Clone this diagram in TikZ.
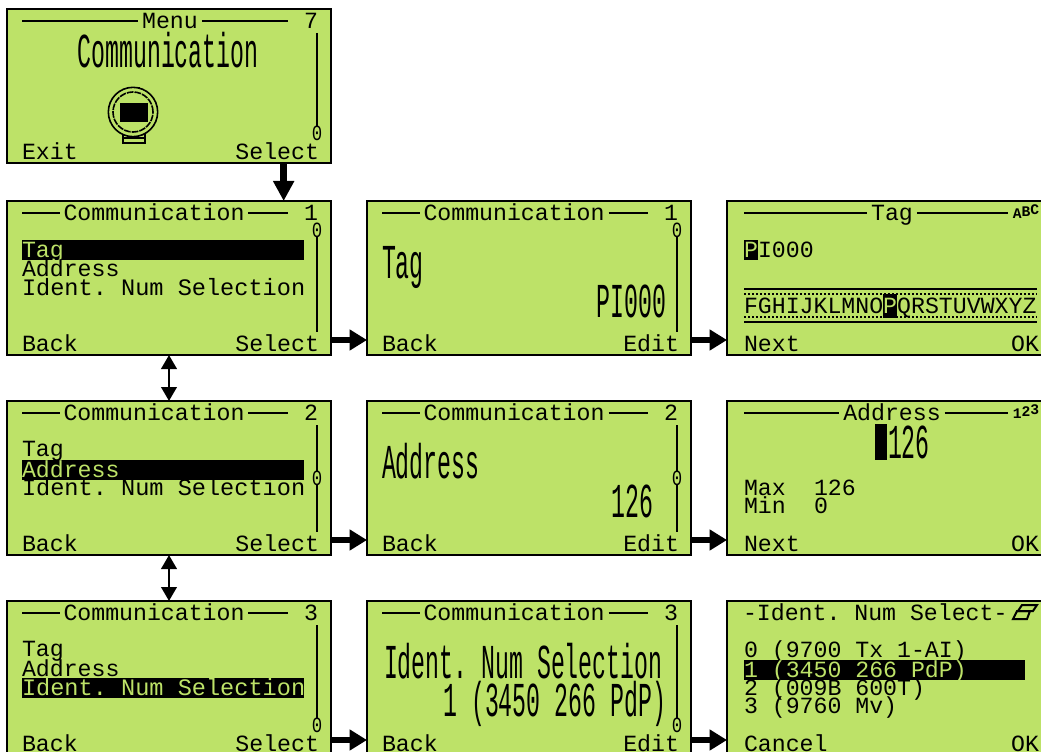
\documentclass[tikz,border=0pt]{standalone}
\usepackage{fontspec}
\setmainfont[WordSpace={1,0,0}, PunctuationSpace=WordSpace]{Liberation Mono}
\frenchspacing
\usetikzlibrary{arrows.meta, positioning}
\definecolor{lcdgreen}{HTML}{BDE268}
\tikzset{
    screen/.style={draw=black, line width=1.9pt, fill=lcdgreen, minimum width=243pt, minimum height=115.5pt, outer sep=0pt, inner sep=0pt},
    lcdtext/.style={inner sep=0pt, outer sep=0pt, text height=11.5pt, text depth=0pt, font=\fontsize{17.4pt}{18pt}\selectfont},
    lcdwide/.style={font=\fontsize{17.7pt}{18pt}\selectfont},
    bigtext/.style={lcdtext, text height=24pt},
    lcdsel/.style={lcdtext, fill=black, text=lcdgreen, inner ysep=1.4pt, text width=#1, align=flush left},
    lcdline/.style={line width=1.5pt},
    lcddots/.style={line width=1.5pt, dash pattern=on 1.5pt off 1.5pt},
    thumb/.style={inner sep=0pt, fill=lcdgreen, font=\fontsize{13pt}{13pt}\selectfont},
    icontext/.style={inner sep=0pt, font=\bfseries\fontsize{11pt}{11pt}\selectfont},
    bigarrow/.style={line width=5pt, -{Triangle[width=15pt,length=#1]}},
    bigarrow/.default=13pt,
    swaparrow/.style={line width=2.2pt, {Triangle[width=11.5pt,length=10.5pt]}-{Triangle[width=11.5pt,length=10.5pt]}}
}
\newcommand{\tall}[1]{\scalebox{1}[2.1]{#1}}
\newcommand{\lcdtitle}[4]{% screen, title, centre, start of the rule
    \node[lcdtext, inner xsep=3pt] (#1title) at (#3,12) {#2};
    \draw[lcdline] (#4,12) -- (#1title);
    \draw[lcdline] (#1title) -- (281,12);
}
\newcommand{\lcdkeys}[4]{% screen, left key, right key, start of the left key
    \node[lcdtext, anchor=west] (#1left) at (#4,143) {#2};
    \node[lcdtext, anchor=east] (#1right) at (312,143) {#3};
}
\newcommand{\lcdbar}[3]{% screen, number, place of the thumb
    \node[lcdtext] (#1num) at (304,12) {#2};
    \draw[lcdline] (310,24) -- (310,131);
    \node[thumb] (#1thumb) at (310,#3) {\scalebox{1}[1.25]{0}};
}
\begin{document}
\begin{tikzpicture}[x=0.75pt, y=-0.75pt, node distance=34.5pt and 27pt]
    \useasboundingbox (0,0) rectangle (1041,752);
    \clip (0,0) rectangle (1041,752);

    % Screens
    \node[screen] at (169,86) (menu) {};
    \node[screen, below=28.5pt of menu] (commA) {};
    \node[screen, below=of commA] (commB) {};
    \node[screen, below=of commB] (commC) {};
    \node[screen, right=of commA] (editA) {};
    \node[screen, right=of commB] (editB) {};
    \node[screen, right=of commC] (editC) {};
    \node[screen, right=of editA] (entryA) {};
    \node[screen, right=of editB] (entryB) {};
    \node[screen, right=of editC] (entryC) {};

    % Menu
    \begin{scope}[shift={(menu.north west)}]
        \lcdtitle{menu}{Menu}{163}{15}
        \lcdkeys{menu}{Exit}{Select}{15}
        \lcdbar{menu}{7}{124}
        \node[bigtext] (menuBig) at (161,43) {\tall{Communication}};
        \draw[line width=1.2pt] (116,125) rectangle (138,134);
        \draw[line width=1pt] (116,129) -- (138,129);
        \draw[line width=1.2pt] (120,79) -- (133,79);
        \draw[line width=1.2pt, fill=lcdgreen] (126,103) circle[radius=18.5pt];
        \draw[line width=1.2pt, dash pattern=on 5pt off 0.8pt] (126,103) circle[radius=15pt];
        \fill (113,94) rectangle (141,113);
    \end{scope}

    % Communication list
    \begin{scope}[shift={(commA.north west)}]
        \lcdtitle{commA}{Communication}{147}{15}
        \lcdkeys{commA}{Back}{Select}{15}
        \lcdbar{commA}{1}{29}
        \node[lcdsel=211.5pt, anchor=west] (commArowA) at (15,49) {Tag};
        \node[lcdtext, anchor=west] (commArowB) at (15,68) {Address};
        \node[lcdtext, lcdwide, anchor=west] (commArowC) at (15,87) {Ident. Num Selection};
    \end{scope}
    \begin{scope}[shift={(commB.north west)}]
        \lcdtitle{commB}{Communication}{147}{15}
        \lcdkeys{commB}{Back}{Select}{15}
        \lcdbar{commB}{2}{77}
        \node[lcdtext, anchor=west] (commBrowA) at (15,48) {Tag};
        \node[lcdsel=211.5pt, anchor=west] (commBrowB) at (15,69) {Address};
        \node[lcdtext, lcdwide, anchor=west] (commBrowC) at (15,87) {Ident. Num Selection};
    \end{scope}
    \begin{scope}[shift={(commC.north west)}]
        \lcdtitle{commC}{Communication}{147}{15}
        \lcdkeys{commC}{Back}{Select}{15}
        \lcdbar{commC}{3}{124}
        \node[lcdtext, anchor=west] (commCrowA) at (15,48) {Tag};
        \node[lcdtext, anchor=west] (commCrowB) at (15,68) {Address};
        \node[lcdsel=211.5pt, lcdwide, anchor=west] (commCrowC) at (15,87) {\mbox{Ident. Num Selection}};
    \end{scope}

    % Values
    \begin{scope}[shift={(editA.north west)}]
        \lcdtitle{editA}{Communication}{147}{15}
        \lcdkeys{editA}{Back}{Edit}{15}
        \lcdbar{editA}{1}{29}
        \node[bigtext, anchor=west] (editAname) at (15,61) {\tall{Tag}};
        \node[bigtext, anchor=east] (editAvalue) at (299,100) {\tall{PI000}};
    \end{scope}
    \begin{scope}[shift={(editB.north west)}]
        \lcdtitle{editB}{Communication}{147}{15}
        \lcdkeys{editB}{Back}{Edit}{15}
        \lcdbar{editB}{2}{77}
        \node[bigtext, anchor=west] (editBname) at (15,61) {\tall{Address}};
        \node[bigtext, anchor=east] (editBvalue) at (286,100) {\tall{126}};
    \end{scope}
    \begin{scope}[shift={(editC.north west)}]
        \lcdtitle{editC}{Communication}{147}{15}
        \lcdkeys{editC}{Back}{Edit}{15}
        \lcdbar{editC}{3}{124}
        \node[bigtext, anchor=west] (editCname) at (17,61) {\tall{Ident. Num Selection}};
        \node[bigtext, anchor=east] (editCvalue) at (299,99) {\tall{1 (3450 266 PdP)}};
    \end{scope}

    % Tag entry
    \begin{scope}[shift={(entryA.north west)}]
        \lcdtitle{entryA}{Tag}{165}{17}
        \lcdkeys{entryA}{Next}{OK}{17}
        \node[icontext] (entryAicon) at (299,11) {A\raisebox{1.5pt}{B}\raisebox{3pt}{C}};
        \node[lcdsel=10.5pt, anchor=west] (entryAcursor) at (17,49) {P};
        \node[lcdtext, right=0pt of entryAcursor] (entryAvalue) {I000};
        \draw[lcdline] (17,88) -- (310,88);
        \draw[lcddots] (17,93) -- (310,93);
        \draw[lcddots] (17,116) -- (310,116);
        \draw[lcdline] (17,121) -- (310,121);
        \node[lcdtext, anchor=west] (entryAfirst) at (17,105) {FGHIJKLMNO};
        \node[lcdsel=10.5pt, inner ysep=3pt, right=0pt of entryAfirst] (entryApick) {P};
        \node[lcdtext, right=0pt of entryApick] (entryAlast) {QRSTUVWXYZ};
    \end{scope}

    % Address entry
    \begin{scope}[shift={(entryB.north west)}]
        \lcdtitle{entryB}{Address}{165}{17}
        \lcdkeys{entryB}{Next}{OK}{17}
        \node[icontext] (entryBicon) at (299,11) {1\raisebox{1.5pt}{2}\raisebox{3pt}{3}};
        \node[bigtext, anchor=west] (entryBvalue) at (161,41) {\tall{126}};
        \fill (148,23) rectangle (160,59);
        \node[lcdtext, anchor=west] (entryBmax) at (17,87) {Max};
        \node[lcdtext, anchor=west] (entryBmaxval) at (87,87) {126};
        \node[lcdtext, anchor=west] (entryBmin) at (17,105) {Min};
        \node[lcdtext, anchor=west] (entryBminval) at (87,105) {0};
    \end{scope}

    % Ident. number choice
    \begin{scope}[shift={(entryC.north west)}]
        \node[lcdtext, anchor=west] (entryCtitle) at (16,12) {-Ident. Num Select-};
        \lcdkeys{entryC}{Cancel}{OK}{17}
        \draw[line width=1.5pt] (291,10) -- (295,4) -- (310,4) -- (306,10) -- cycle;
        \draw[line width=1.5pt] (286,18) -- (290,10) -- (303,10) -- (300,18) -- cycle;
        \node[lcdtext, anchor=west] (entryCrowA) at (17,49) {0 (9700 Tx 1-AI)};
        \node[lcdsel=211pt, anchor=west] (entryCrowB) at (17,69) {1 (3450 266 PdP)};
        \node[lcdtext, anchor=west] (entryCrowC) at (17,87) {2 (009B 600T)};
        \node[lcdtext, anchor=west] (entryCrowD) at (17,105) {3 (9760 Mv)};
    \end{scope}

    % Arrows
    \draw[bigarrow=15pt] ([xshift=86pt]menu.south) -- ([xshift=86pt]commA.north);
    \draw[swaparrow] (commA) -- (commB);
    \draw[swaparrow] (commB) -- (commC);
    \draw[bigarrow] ([yshift=-46.5pt]commA.east) -- ([yshift=-46.5pt]editA.west);
    \draw[bigarrow] ([yshift=-46.5pt]commB.east) -- ([yshift=-46.5pt]editB.west);
    \draw[bigarrow] ([yshift=-46.5pt]commC.east) -- ([yshift=-46.5pt]editC.west);
    \draw[bigarrow] ([yshift=-46.5pt]editA.east) -- ([yshift=-46.5pt]entryA.west);
    \draw[bigarrow] ([yshift=-46.5pt]editB.east) -- ([yshift=-46.5pt]entryB.west);
    \draw[bigarrow] ([yshift=-46.5pt]editC.east) -- ([yshift=-46.5pt]entryC.west);
\end{tikzpicture}
\end{document}
